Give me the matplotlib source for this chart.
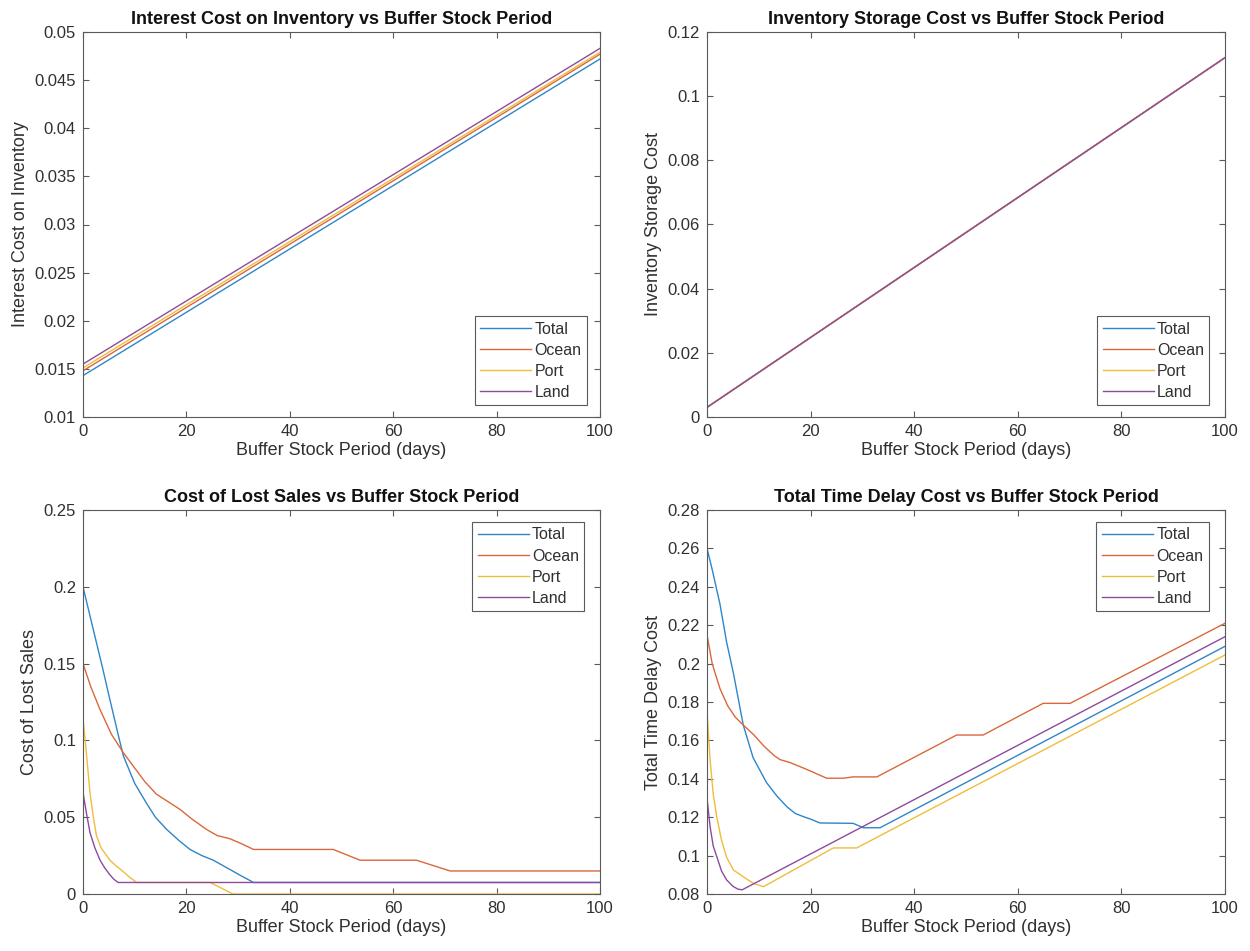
import matplotlib
matplotlib.use("Agg")
import matplotlib.pyplot as plt
from matplotlib.ticker import FuncFormatter, MultipleLocator

plt.rcParams['font.family'] = ['Liberation Sans', 'DejaVu Sans']

series_names = ["Total", "Ocean", "Port", "Land"]
series_colors = ["#2E86C8", "#D9683A", "#EFBD3C", "#8E4A9C"]

# Interest cost on inventory (linear in buffer period)
interest_x = [0, 100]
interest_total = [0.0143, 0.0472]
interest_ocean = [0.0148, 0.0477]
interest_port = [0.0151, 0.0479]
interest_land = [0.0155, 0.0483]

# Inventory storage cost (identical for every leg)
storage_x = [0, 100]
storage_total = [0.003, 0.112]
storage_ocean = [0.003, 0.112]
storage_port = [0.003, 0.112]
storage_land = [0.003, 0.112]

# Cost of lost sales
lost_total_x = [0, 2, 3.8, 5.1, 7, 7.8, 10, 12.3, 14, 16.2, 18.5, 20.7, 23, 25.2, 28.4, 30.5, 33, 100]
lost_total_y = [0.200, 0.172, 0.147, 0.128, 0.101, 0.090, 0.072, 0.059, 0.050, 0.042, 0.035,
                0.029, 0.025, 0.022, 0.016, 0.012, 0.0075, 0.0075]
lost_ocean_x = [0, 1.5, 3.3, 5.5, 7.8, 10, 12, 14.2, 16.5, 18.8, 21, 23.9, 26, 28.4, 30.5, 33,
                48.4, 53.6, 64.5, 71, 100]
lost_ocean_y = [0.150, 0.135, 0.120, 0.104, 0.092, 0.082, 0.073, 0.065, 0.060, 0.055, 0.049,
                0.042, 0.038, 0.036, 0.033, 0.029, 0.029, 0.022, 0.022, 0.015, 0.015]
lost_port_x = [0, 0.7, 1.35, 2, 2.6, 3.5, 5.2, 6.5, 7.8, 9, 10.4, 24.6, 29, 100]
lost_port_y = [0.115, 0.090, 0.066, 0.050, 0.038, 0.030, 0.022, 0.018, 0.0145, 0.011,
               0.0075, 0.0075, 0.0, 0.0]
lost_land_x = [0, 0.7, 1.35, 2.3, 3.3, 4.2, 5.2, 6, 6.8, 100]
lost_land_y = [0.066, 0.052, 0.040, 0.030, 0.022, 0.017, 0.0125, 0.0095, 0.0075, 0.0075]

# Total time delay cost
delay_total_x = [0, 1, 2.5, 3.8, 5.1, 7, 8.9, 11.5, 13.5, 15.4, 17, 18.6, 20, 21.8, 28.2, 30.2, 33.4, 100]
delay_total_y = [0.260, 0.249, 0.231, 0.211, 0.195, 0.168, 0.151, 0.138, 0.131, 0.1255, 0.122,
                 0.1203, 0.119, 0.117, 0.1168, 0.1145, 0.1145, 0.209]
delay_ocean_x = [0, 1, 2.5, 4, 5.5, 7, 9, 11, 13, 14.1, 16, 18, 20, 23.1, 26.3, 28.2, 32.8,
                 48.2, 53.3, 64.9, 70.1, 100]
delay_ocean_y = [0.215, 0.200, 0.187, 0.178, 0.172, 0.168, 0.163, 0.157, 0.152, 0.150, 0.1485,
                 0.1463, 0.144, 0.1403, 0.1403, 0.141, 0.141, 0.1628, 0.1628, 0.1793, 0.1793, 0.221]
delay_port_x = [0, 0.6, 1.2, 1.9, 2.8, 3.8, 5.1, 7, 8.9, 10.9, 24.4, 28.9, 100]
delay_port_y = [0.175, 0.150, 0.132, 0.120, 0.108, 0.099, 0.0925, 0.089, 0.0856, 0.0838,
                0.104, 0.104, 0.2045]
delay_land_x = [0, 0.6, 1.2, 1.9, 2.8, 3.8, 5, 6, 6.8, 100]
delay_land_y = [0.130, 0.115, 0.105, 0.0994, 0.092, 0.0873, 0.0840, 0.0825, 0.0822, 0.214]

fig = plt.figure(figsize=(12.5, 9.51), dpi=100)

W, H = 1250.0, 951.0
def axes_px(x0, x1, y0, y1):
    return fig.add_axes([x0 / W, 1 - y1 / H, (x1 - x0) / W, (y1 - y0) / H])

ax_tl = axes_px(83, 600, 32, 417)
ax_tr = axes_px(707, 1225, 32, 417)
ax_bl = axes_px(83, 600, 510, 894)
ax_br = axes_px(707, 1225, 510, 894)

fmt = FuncFormatter(lambda v, p: "%g" % round(v, 6))
text_col = "#303030"
edge_col = "#5a5a5a"

def style(ax, title, ylabel, ylim, ystep, legend_loc, anchor):
    ax.set_xlim(0, 100)
    ax.set_ylim(*ylim)
    ax.xaxis.set_major_locator(MultipleLocator(20))
    ax.yaxis.set_major_locator(MultipleLocator(ystep))
    ax.yaxis.set_major_formatter(fmt)
    ax.xaxis.set_major_formatter(fmt)
    ax.tick_params(direction="in", length=4, width=0.8, top=True, right=True,
                   labelsize=12, colors=edge_col, labelcolor=text_col, pad=5)
    for s in ax.spines.values():
        s.set_color(edge_col)
        s.set_linewidth(0.8)
    ax.set_title(title, fontsize=13, fontweight="bold", color="#111111", pad=6)
    ax.set_xlabel("Buffer Stock Period (days)", fontsize=13, color=text_col, labelpad=2)
    ax.set_ylabel(ylabel, fontsize=13, color=text_col, labelpad=4)
    leg = ax.legend(loc=legend_loc, bbox_to_anchor=anchor, borderaxespad=0,
                    fontsize=11.5, frameon=True, fancybox=False, framealpha=1,
                    handlelength=3.2, handletextpad=0.2, borderpad=0.35,
                    labelspacing=0.38)
    leg.get_frame().set_edgecolor(edge_col)
    leg.get_frame().set_linewidth(0.8)
    for t in leg.get_texts():
        t.set_color(text_col)

lw = 1.0
for y, name, c in zip([interest_total, interest_ocean, interest_port, interest_land],
                      series_names, series_colors):
    ax_tl.plot(interest_x, y, color=c, lw=lw, label=name)
style(ax_tl, "Interest Cost on Inventory vs Buffer Stock Period", "Interest Cost on Inventory",
      (0.01, 0.05), 0.005, "lower right", (0.975, 0.03))

for y, name, c in zip([storage_total, storage_ocean, storage_port, storage_land],
                      series_names, series_colors):
    ax_tr.plot(storage_x, y, color=c, lw=lw, label=name)
style(ax_tr, "Inventory Storage Cost vs Buffer Stock Period", "Inventory Storage Cost",
      (0, 0.12), 0.02, "lower right", (0.97, 0.03))

for x, y, name, c in zip([lost_total_x, lost_ocean_x, lost_port_x, lost_land_x],
                         [lost_total_y, lost_ocean_y, lost_port_y, lost_land_y],
                         series_names, series_colors):
    ax_bl.plot(x, y, color=c, lw=lw, label=name)
style(ax_bl, "Cost of Lost Sales vs Buffer Stock Period", "Cost of Lost Sales",
      (0, 0.25), 0.05, "upper right", (0.97, 0.969))

for x, y, name, c in zip([delay_total_x, delay_ocean_x, delay_port_x, delay_land_x],
                         [delay_total_y, delay_ocean_y, delay_port_y, delay_land_y],
                         series_names, series_colors):
    ax_br.plot(x, y, color=c, lw=lw, label=name)
style(ax_br, "Total Time Delay Cost vs Buffer Stock Period", "Total Time Delay Cost",
      (0.08, 0.28), 0.02, "upper right", (0.969, 0.969))

fig.savefig("out.png", dpi=100)
